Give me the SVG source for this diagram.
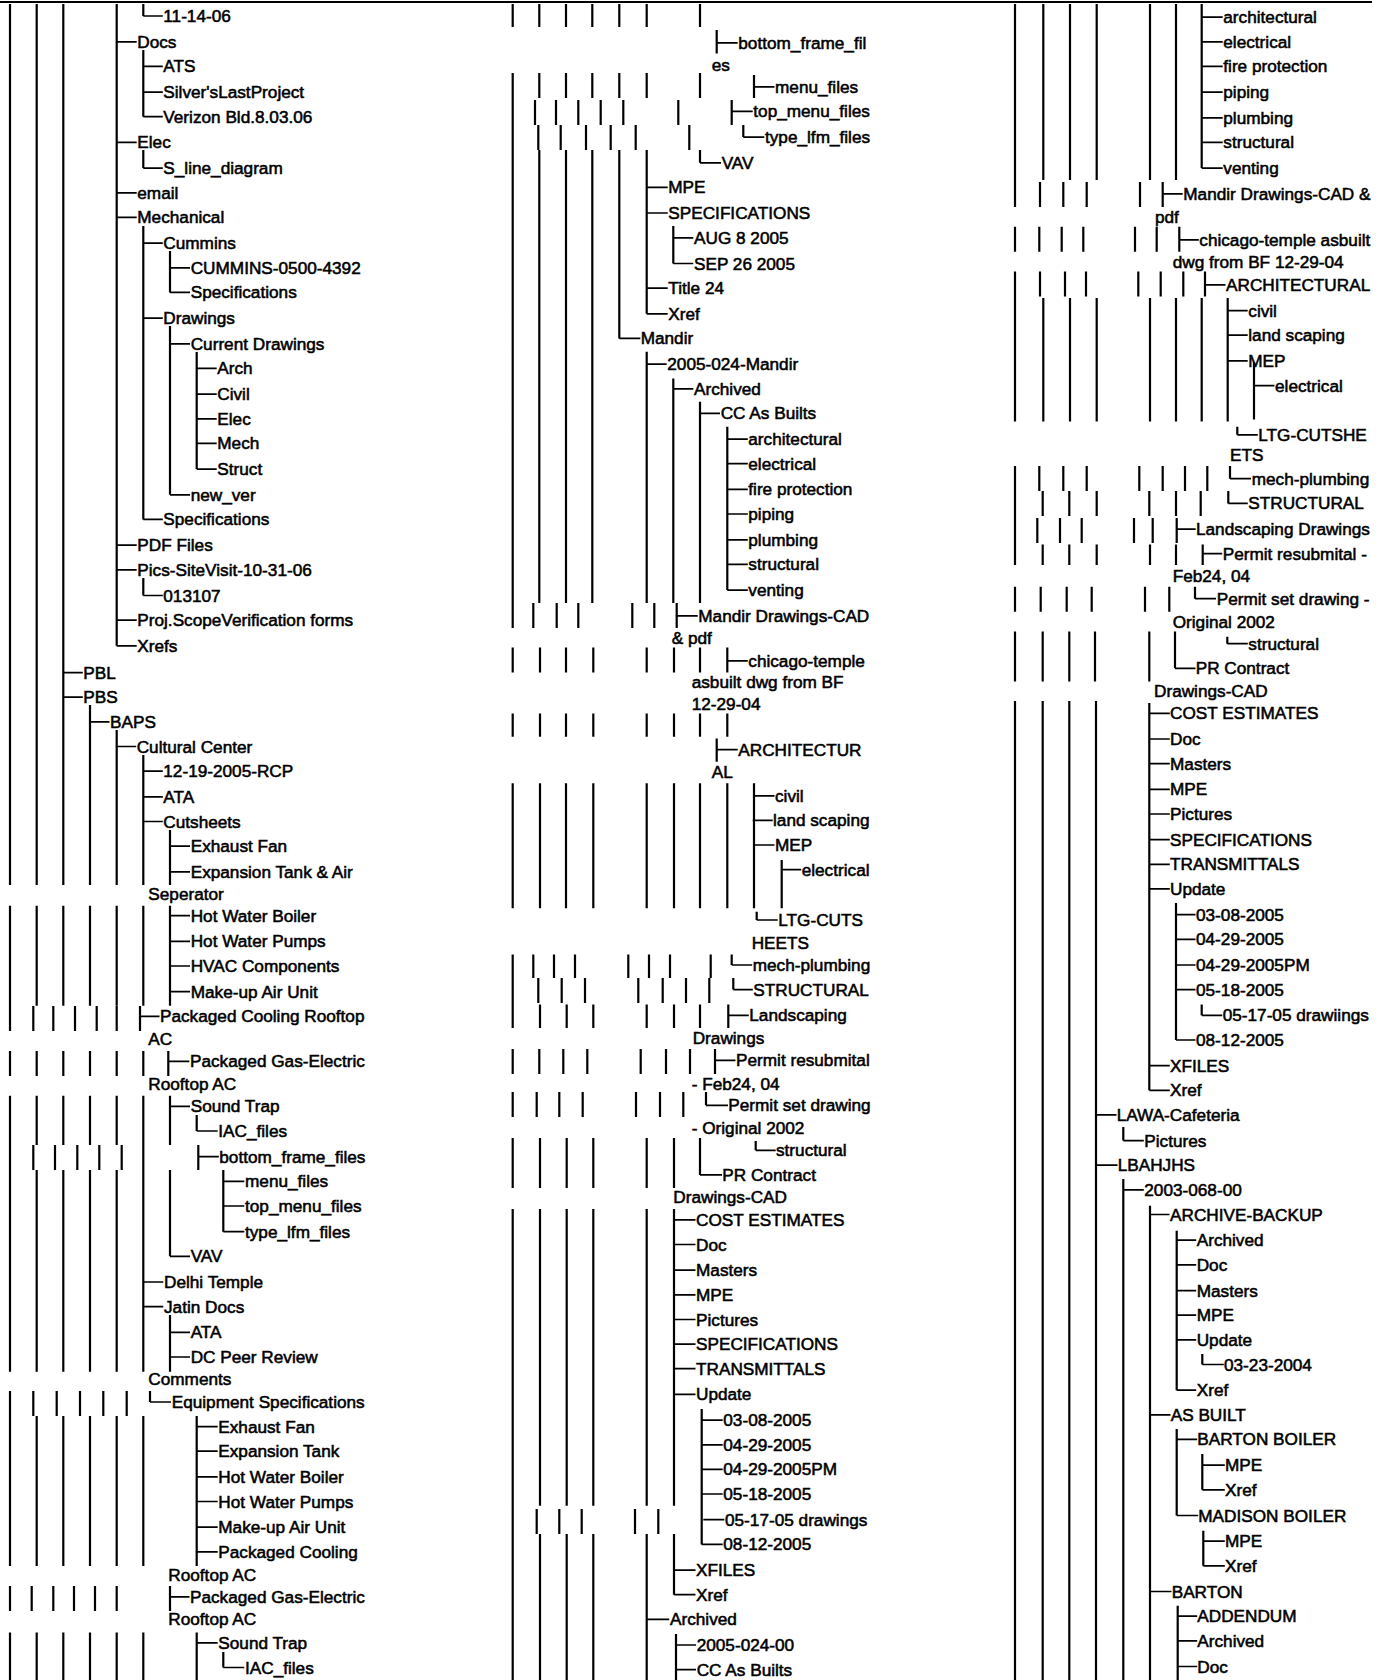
<svg xmlns="http://www.w3.org/2000/svg" width="1387" height="1680" viewBox="0 0 1387 1680">
<style>
.t{font-family:"Liberation Sans",Arial,sans-serif;font-size:17.2px;fill:#000;stroke:#000;stroke-width:0.55;dominant-baseline:central}
.v{fill:none;stroke:#000;stroke-width:2.2}
.h{fill:none;stroke:#000;stroke-width:1.7}
</style>
<rect width="1387" height="1680" fill="#fff"/>
<g id="connectors">
<path class="v" d="M0 2H1372"/>
<path class="v" d="M10 4V885M10 905.7V1031M10 1051V1076M10 1095.7V1371.8M10 1391V1566M10 1586V1611M10 1632.5V1680
M36.7 4V885M36.7 905.7V1005.7M33.3 1006V1031M36.7 1051V1076M36.7 1095.7V1145M33.3 1145V1170M36.7 1170V1371.8M33.3 1391V1416M36.7 1416V1566M31.7 1586V1611M36.7 1632.5V1680
M63.3 4V885M63.3 905.7V1005.7M53.3 1006V1031M63.3 1051V1076M63.3 1095.7V1145M55 1145V1170M63.3 1170V1371.8M56.7 1391V1416M63.3 1416V1566M53.3 1586V1611M63.3 1632.5V1680
M90 705V885M90 905.7V1005.7M75 1006V1031M90 1051V1076M90 1095.7V1145M77.3 1145V1170M90 1170V1371.8M80 1391V1416M90 1416V1566M74 1586V1611M90 1632.5V1680
M116.7 4V645.8M116.7 730V885M116.7 905.7V1005.7M96.7 1006V1031M116.7 1051V1076M116.7 1095.7V1145M99.3 1145V1170M116.7 1170V1371.8M103.3 1391V1416M116.7 1416V1566M95 1586V1611M116.7 1632.5V1680
M143.3 4V16M143.3 50V116.7M143.3 150V168.1M143.3 226V519.4M143.3 578V595.5M143.3 755V885M143.3 905.7V1005.7M116.7 1006V1031M143.3 1051V1076M143.3 1095.7V1145M121.7 1145V1170M143.3 1170V1371.8M126.7 1391V1416M143.3 1416V1566M116.7 1586V1611M143.3 1632.5V1680
M170 251V292.4M170 326V494.8M170 830V885M170 905.7V1005.7M140 1006V1031M168.3 1051V1076M170 1095.7V1145M143.3 1145V1170M170 1170V1256.3M170 1315V1371.8M150 1391V1402M170 1586V1611
M196.7 352V469.1M196.7 1115V1131M198.3 1145V1170M196.7 1416V1566M196.7 1632.5V1680
M223.3 1170V1231.7M223.3 1652V1667.5"/>
<path class="h" d="M116.7 41.8h20M116.7 142.4h20M116.7 192.8h20M116.7 217.4h20M116.7 545.1h20M116.7 569.8h20M116.7 620.1h20M116.7 645.8h20M116.7 746.5h19.5
M143.3 16h19.5M143.3 66.4h19.5M143.3 92.1h19.5M143.3 116.7h19.5M143.3 168.1h19.5M143.3 243.1h19.5M143.3 318.1h19.5M143.3 519.4h19.5M143.3 595.5h19.5M143.3 771.1h19.5M143.3 796.8h19.5M143.3 821.5h19.5M143.3 1282h20M143.3 1306.6h20
M170 267.8h20M170 292.4h20M170 343.8h20M170 494.8h20M170 846.1h20M170 871.8h20M170 915.7h20M170 941.4h20M170 966h20M170 991.7h20M170 1106.3h20M170 1256.3h20M170 1332.3h20M170 1357h20
M196.7 368.4h20M196.7 394.1h20M196.7 418.8h20M196.7 443.4h20M196.7 469.1h20M196.7 1131h21M196.7 1426.6h21M196.7 1451.2h21M196.7 1476.9h21M196.7 1501.5h21M196.7 1527.2h21M196.7 1551.9h21M196.7 1642.9h21
M223.3 1181.3h21M223.3 1206h21M223.3 1231.7h21M223.3 1667.5h21
M63.3 672.6h19.5M63.3 697.2h19.5M90 721.9h19.5
M140 1016.4h19.5M168.3 1061.4h21M198.3 1156.7h20.5M150 1402h21M170 1596.9h19.5"/>
<path class="v" d="M512.7 4V27M512.7 73V628M512.7 647.5V672.5M512.7 713.6V736.8M512.7 783.2V908.2M512.7 954.6V1027.9M512.7 1049V1074M512.7 1092V1117M512.7 1138V1188M512.7 1209V1680
M539.3 4V27M539.3 73V98M535 100V125M538.3 125V150M539.3 150V603M533.3 603V628M540 647.5V672.5M540 713.6V736.8M540 783.2V908.2M533.3 954.6V977.9M538.3 978V1003M540 1004.6V1027.9M539.3 1049V1074M536.7 1092V1117M540 1138V1188M540 1209V1505.7M536.7 1509V1534M540 1534V1680
M566 4V27M566 73V98M556 100V125M560.7 125V150M566 150V603M556.7 603V628M566 647.5V672.5M566 713.6V736.8M566 783.2V908.2M554 954.6V977.9M561.7 978V1003M566.7 1004.6V1027.9M563.3 1049V1074M559.3 1092V1117M566.7 1138V1188M566.7 1209V1505.7M559.3 1509V1534M566.7 1534V1680
M592.3 4V27M592.3 73V98M578.3 100V125M586 125V150M592.3 150V603M578.3 603V628M593.3 647.5V672.5M593.3 713.6V736.8M593.3 783.2V908.2M575 954.6V977.9M585 978V1003M593.3 1004.6V1027.9M587.3 1049V1074M582.7 1092V1117M593.3 1138V1188M593.3 1209V1505.7M581.7 1509V1534M593.3 1534V1680
M619.3 4V27M619.3 73V98M600.7 100V125M610.7 125V150M619.3 150V338.4
M646.7 4V27M646.7 73V98M623.3 100V125M635.7 125V150M646.7 150V313.8M646.7 351.8V603M632.3 603V628M646.7 647.5V672.5M646.7 713.6V736.8M646.7 783.2V908.2M628.3 954.6V977.9M638.3 978V1003M646.7 1004.6V1027.9M640.7 1049V1074M636 1092V1117M646.7 1138V1188M646.7 1209V1505.7M635 1509V1534M646.7 1534V1680
M673.3 226V263.5M673.3 378.6V603M654.3 603V628M674 647.5V672.5M674 713.6V736.8M674 783.2V908.2M649 954.6V977.9M662.7 978V1003M674 1004.6V1027.9M666 1049V1074M660 1092V1117M674 1138V1188M674 1209V1505.7M658.3 1509V1534M674 1534V1594.7M676 1634V1680
M700 4V27M716.7 30V53.6M700 73V98M678.3 100V125M689.3 125V150M700 150V162.8M700 401.8V603M676.7 603V628M700 647.5V672.5M700 713.6V736.8M700 783.2V908.2M670 954.6V977.9M686 978V1003M700 1004.6V1027.9M690 1049V1074M683.3 1092V1117M700 1138V1174.9
M727.3 426.8V590.1M727.3 647.5V672.5M727.3 713.6V736.8M716.7 738.6V761.8M727.3 783.2V908.2M710.7 954.6V977.9M709.3 978V1003M728.3 1004.6V1027.9M715 1049V1074M706 1092V1105.3
M754 75V98M731.7 100V125M743.3 125V137.1M754 783.2V908.2M781.7 860V908.2M756.7 911.8V920M731.7 954.6V965M733.3 978V989.6M755.7 1141V1150.3M701.7 1409V1544.4"/>
<path class="h" d="M716.7 42.8h21M754 86.8h20.5M731.7 111.4h21M743.3 137.1h21M700 162.8h21
M646.7 187.4h21M646.7 213h21M673.3 237.8h20M673.3 263.5h20M646.7 288.1h21M646.7 313.8h21M619.3 338.4h21M646.7 364.1h20M673.3 388.8h20M700 413.4h20
M727.3 439.1h20.5M727.3 463.7h20.5M727.3 489.4h20.5M727.3 514h20.5M727.3 539.8h20.5M727.3 564.4h20.5M727.3 590.1h20.5
M676.7 615.8h21M727.3 660.8h20.5M716.7 749.7h21M754 795.8h20.5M752.7 820.4h20M754 845h20.5M781.7 869.7h19.5M756.7 920h21M731.7 965h20.5M733.3 989.6h19.5M728.3 1015.3h20.5M715 1060.3h20.5M706 1105.3h22M755.7 1150.3h20M700 1174.9h22
M674 1219.9h21.5M674 1244.5h21.5M674 1270.2h21.5M674 1294.8h21.5M674 1319.5h21.5M674 1344.1h21.5M674 1368.7h21.5M674 1394.4h21.5
M701.7 1420.1h21M701.7 1444.8h21M701.7 1469.4h21M701.7 1494h21M703.3 1519.7h21M701.7 1544.4h21
M674 1570.1h21.5M674 1594.7h21.5M646.7 1619.4h22.5M676 1645h20M676 1669.7h20"/>
<path class="v" d="M1015 4V207M1015 226.8V251.8M1015 271.4V421.4M1015 466V565M1015 586.8V611.8M1015 631.4V681.4M1015 701V1680
M1043.3 4V180M1040 182V207M1039.3 226.8V251.8M1040 271.4V296.4M1043.3 298V421.4M1039.3 466V491M1042.7 491V516M1037.3 518V543M1042.7 544.6V565M1040.7 586.8V611.8M1042.7 631.4V681.4M1042.7 701V1680
M1070 4V180M1063.3 182V207M1061.7 226.8V251.8M1065 271.4V296.4M1070 298V421.4M1063.3 466V491M1069.3 491V516M1060 518V543M1069.3 544.6V565M1066.7 586.8V611.8M1069.3 631.4V681.4M1069.3 701V1680
M1096.7 4V180M1086.7 182V207M1083.3 226.8V251.8M1086 271.4V296.4M1096.7 298V421.4M1086.7 466V491M1096.7 491V516M1081.7 518V543M1096.7 544.6V565M1091.7 586.8V611.8M1095 631.4V681.4M1096 701V1680
M1150 4V180M1140 182V207M1135 226.8V251.8M1138.3 271.4V296.4M1150 298V421.4M1139.3 466V491M1149.3 491V516M1134 518V543M1150 544.6V565M1145 586.8V611.8M1149.3 631.4V681.4M1149.3 702.9V1090.3
M1176 4V180M1162.7 182V207M1156.7 226.8V251.8M1160.7 271.4V296.4M1176 298V421.4M1162.7 466V491M1176 491V516M1152.7 518V543M1176 544.6V565M1169.3 586.8V611.8M1175 631.4V668.3
M1201.7 4V168.1M1179.3 226.8V251.8M1183.3 271.4V296.4M1201.7 298V421.4M1185 466V491M1200.7 491V516M1176.7 518V543M1202.7 544.6V565M1195 586.8V598.7
M1205 271.4V296.4M1227.7 298V421.4M1207.3 466V491M1228.3 491V503.4
M1254 362.5V419.6M1237.3 426.8V434.8M1230 466V478.7M1227.3 636.8V643.7
M1176 902.9V1040M1201.7 1004.6V1015.3M1123.3 1127V1140.6M1123.3 1179V1680M1150 1205.7V1680M1176.7 1230.7V1390.2M1202.3 1354V1364.5M1176.7 1429V1515.5M1202.3 1454V1489.8M1203.3 1530.7V1565.8M1177.7 1605.7V1680"/>
<path class="h" d="M1201.7 17.1h21M1201.7 41.8h21M1201.7 66.4h21M1201.7 92.1h21M1201.7 117.8h21M1201.7 142.4h21M1201.7 168.1h21
M1162.7 193.9h20M1179.3 239.9h19.5M1205 284.9h20.5M1227.7 310.6h20M1227.7 335.2h20M1227.7 360.9h20M1254 385.6h20.5M1237.3 434.8h20.5M1230 478.7h21M1228.3 503.4h19.5M1176.7 529.1h19M1202.7 553.7h19.5M1195 598.7h21M1227.3 643.7h20.5M1175 668.3h20.5
M1149.3 713.3h20.5M1149.3 739h20.5M1149.3 763.6h20.5M1149.3 789.3h20.5M1149.3 814h20.5M1149.3 839.7h20.5M1149.3 864.3h20.5M1149.3 888.9h20.5
M1176 914.6h19.5M1176 939.3h19.5M1176 965h19.5M1176 989.6h19.5M1201.7 1015.3h20.5M1176 1040h19.5
M1149.3 1065.6h20.5M1149.3 1090.3h20.5
M1096 1114.9h20.5M1123.3 1140.6h20.5M1096 1165.2h21.5M1123.3 1189.9h20.5M1150 1214.5h19.5
M1176.7 1240.2h19.5M1176.7 1264.9h19.5M1176.7 1290.6h19.5M1176.7 1315.2h19.5M1176.7 1339.8h19.5M1176.7 1390.2h19.5M1202.3 1364.5h21.5
M1150 1414.8h20.5M1176.7 1439.4h20.5M1202.3 1465.1h22.5M1202.3 1489.8h22.5M1176.7 1515.5h21.5M1203.3 1541.2h21.5M1203.3 1565.8h21.5M1150 1591.5h21.5M1177.7 1616.1h19.5M1177.7 1640.8h19.5M1177.7 1666.5h19.5"/>
</g>
<g id="left-column">
<g id="l1"><text class="t" x="163.3" y="16">11-14-06</text></g>
<g id="l2"><text class="t" x="137.3" y="41.8">Docs</text></g>
<g id="l3"><text class="t" x="163.3" y="66.4">ATS</text></g>
<g id="l4"><text class="t" x="163.3" y="92.1">Silver'sLastProject</text></g>
<g id="l5"><text class="t" x="163.3" y="116.7">Verizon Bld.8.03.06</text></g>
<g id="l6"><text class="t" x="137.3" y="142.4">Elec</text></g>
<g id="l7"><text class="t" x="163.3" y="168.1">S_line_diagram</text></g>
<g id="l8"><text class="t" x="137.3" y="192.8">email</text></g>
<g id="l9"><text class="t" x="137.3" y="217.4">Mechanical</text></g>
<g id="l10"><text class="t" x="163.3" y="243.1">Cummins</text></g>
<g id="l11"><text class="t" x="190.7" y="267.8">CUMMINS-0500-4392</text></g>
<g id="l12"><text class="t" x="190.7" y="292.4">Specifications</text></g>
<g id="l13"><text class="t" x="163.3" y="318.1">Drawings</text></g>
<g id="l14"><text class="t" x="190.7" y="343.8">Current Drawings</text></g>
<g id="l15"><text class="t" x="217.3" y="368.4">Arch</text></g>
<g id="l16"><text class="t" x="217.3" y="394.1">Civil</text></g>
<g id="l17"><text class="t" x="217.3" y="418.8">Elec</text></g>
<g id="l18"><text class="t" x="217.3" y="443.4">Mech</text></g>
<g id="l19"><text class="t" x="217.3" y="469.1">Struct</text></g>
<g id="l20"><text class="t" x="190.7" y="494.8">new_ver</text></g>
<g id="l21"><text class="t" x="163.3" y="519.4">Specifications</text></g>
<g id="l22"><text class="t" x="137.3" y="545.1">PDF Files</text></g>
<g id="l23"><text class="t" x="137.3" y="569.8">Pics-SiteVisit-10-31-06</text></g>
<g id="l24"><text class="t" x="163.3" y="595.5">013107</text></g>
<g id="l25"><text class="t" x="137.3" y="620.1">Proj.ScopeVerification forms</text></g>
<g id="l26"><text class="t" x="137.3" y="645.8">Xrefs</text></g>
<g id="l27"><text class="t" x="83.3" y="672.6">PBL</text></g>
<g id="l28"><text class="t" x="83.3" y="697.2">PBS</text></g>
<g id="l29"><text class="t" x="110" y="721.9">BAPS</text></g>
<g id="l30"><text class="t" x="136.7" y="746.5">Cultural Center</text></g>
<g id="l31"><text class="t" x="163.3" y="771.1">12-19-2005-RCP</text></g>
<g id="l32"><text class="t" x="163.3" y="796.8">ATA</text></g>
<g id="l33"><text class="t" x="163.3" y="821.5">Cutsheets</text></g>
<g id="l34"><text class="t" x="190.7" y="846.1">Exhaust Fan</text></g>
<g id="l35"><text class="t" x="190.7" y="871.8">Expansion Tank &amp; Air</text><text class="t" x="148.3" y="894.3">Seperator</text></g>
<g id="l36"><text class="t" x="190.7" y="915.7">Hot Water Boiler</text></g>
<g id="l37"><text class="t" x="190.7" y="941.4">Hot Water Pumps</text></g>
<g id="l38"><text class="t" x="190.7" y="966">HVAC Components</text></g>
<g id="l39"><text class="t" x="190.7" y="991.7">Make-up Air Unit</text></g>
<g id="l40"><text class="t" x="160" y="1016.4">Packaged Cooling Rooftop</text><text class="t" x="148.3" y="1038.9">AC</text></g>
<g id="l41"><text class="t" x="190" y="1061.4">Packaged Gas-Electric</text><text class="t" x="148.3" y="1083.9">Rooftop AC</text></g>
<g id="l42"><text class="t" x="190.7" y="1106.3">Sound Trap</text></g>
<g id="l43"><text class="t" x="218.3" y="1131">IAC_files</text></g>
<g id="l44"><text class="t" x="219.3" y="1156.7">bottom_frame_files</text></g>
<g id="l45"><text class="t" x="245" y="1181.3">menu_files</text></g>
<g id="l46"><text class="t" x="245" y="1206">top_menu_files</text></g>
<g id="l47"><text class="t" x="245" y="1231.7">type_lfm_files</text></g>
<g id="l48"><text class="t" x="190.7" y="1256.3">VAV</text></g>
<g id="l49"><text class="t" x="164" y="1282">Delhi Temple</text></g>
<g id="l50"><text class="t" x="164" y="1306.6">Jatin Docs</text></g>
<g id="l51"><text class="t" x="190.7" y="1332.3">ATA</text></g>
<g id="l52"><text class="t" x="190.7" y="1357">DC Peer Review</text><text class="t" x="148.3" y="1379.4">Comments</text></g>
<g id="l53"><text class="t" x="171.7" y="1402">Equipment Specifications</text></g>
<g id="l54"><text class="t" x="218.3" y="1426.6">Exhaust Fan</text></g>
<g id="l55"><text class="t" x="218.3" y="1451.2">Expansion Tank</text></g>
<g id="l56"><text class="t" x="218.3" y="1476.9">Hot Water Boiler</text></g>
<g id="l57"><text class="t" x="218.3" y="1501.5">Hot Water Pumps</text></g>
<g id="l58"><text class="t" x="218.3" y="1527.2">Make-up Air Unit</text></g>
<g id="l59"><text class="t" x="218.3" y="1551.9">Packaged Cooling</text><text class="t" x="168.3" y="1575.4">Rooftop AC</text></g>
<g id="l60"><text class="t" x="190" y="1596.9">Packaged Gas-Electric</text><text class="t" x="168.3" y="1619.4">Rooftop AC</text></g>
<g id="l61"><text class="t" x="218.3" y="1642.9">Sound Trap</text></g>
<g id="l62"><text class="t" x="245" y="1667.5">IAC_files</text></g>
</g>
<g id="middle-column">
<g id="m1"><text class="t" x="738.3" y="42.8">bottom_frame_fil</text><text class="t" x="711.7" y="65.3">es</text></g>
<g id="m2"><text class="t" x="775" y="86.8">menu_files</text></g>
<g id="m3"><text class="t" x="753.3" y="111.4">top_menu_files</text></g>
<g id="m4"><text class="t" x="765" y="137.1">type_lfm_files</text></g>
<g id="m5"><text class="t" x="721.7" y="162.8">VAV</text></g>
<g id="m6"><text class="t" x="668.3" y="187.4">MPE</text></g>
<g id="m7"><text class="t" x="668.3" y="213">SPECIFICATIONS</text></g>
<g id="m8"><text class="t" x="694" y="237.8">AUG 8 2005</text></g>
<g id="m9"><text class="t" x="694" y="263.5">SEP 26 2005</text></g>
<g id="m10"><text class="t" x="668.3" y="288.1">Title 24</text></g>
<g id="m11"><text class="t" x="668.3" y="313.8">Xref</text></g>
<g id="m12"><text class="t" x="640.7" y="338.4">Mandir</text></g>
<g id="m13"><text class="t" x="667.3" y="364.1">2005-024-Mandir</text></g>
<g id="m14"><text class="t" x="694" y="388.8">Archived</text></g>
<g id="m15"><text class="t" x="720.7" y="413.4">CC As Builts</text></g>
<g id="m16"><text class="t" x="748.3" y="439.1">architectural</text></g>
<g id="m17"><text class="t" x="748.3" y="463.7">electrical</text></g>
<g id="m18"><text class="t" x="748.3" y="489.4">fire protection</text></g>
<g id="m19"><text class="t" x="748.3" y="514">piping</text></g>
<g id="m20"><text class="t" x="748.3" y="539.8">plumbing</text></g>
<g id="m21"><text class="t" x="748.3" y="564.4">structural</text></g>
<g id="m22"><text class="t" x="748.3" y="590.1">venting</text></g>
<g id="m23"><text class="t" x="698.3" y="615.8">Mandir Drawings-CAD</text><text class="t" x="671.7" y="638.3">&amp; pdf</text></g>
<g id="m24"><text class="t" x="748.3" y="660.8">chicago-temple</text><text class="t" x="691.7" y="682.2">asbuilt dwg from BF</text><text class="t" x="691.7" y="703.6">12-29-04</text></g>
<g id="m25"><text class="t" x="738.3" y="749.7">ARCHITECTUR</text><text class="t" x="711.7" y="772.2">AL</text></g>
<g id="m26"><text class="t" x="775" y="795.8">civil</text></g>
<g id="m27"><text class="t" x="773" y="820.4">land scaping</text></g>
<g id="m28"><text class="t" x="775" y="845">MEP</text></g>
<g id="m29"><text class="t" x="801.7" y="869.7">electrical</text></g>
<g id="m30"><text class="t" x="778.3" y="920">LTG-CUTS</text><text class="t" x="751.7" y="942.5">HEETS</text></g>
<g id="m31"><text class="t" x="752.7" y="965">mech-plumbing</text></g>
<g id="m32"><text class="t" x="753.3" y="989.6">STRUCTURAL</text></g>
<g id="m33"><text class="t" x="749.3" y="1015.3">Landscaping</text><text class="t" x="692.7" y="1037.8">Drawings</text></g>
<g id="m34"><text class="t" x="736" y="1060.3">Permit resubmital</text><text class="t" x="691.7" y="1083.9">- Feb24, 04</text></g>
<g id="m35"><text class="t" x="728.3" y="1105.3">Permit set drawing</text><text class="t" x="691.7" y="1127.8">- Original 2002</text></g>
<g id="m36"><text class="t" x="776" y="1150.3">structural</text></g>
<g id="m37"><text class="t" x="722.3" y="1174.9">PR Contract</text><text class="t" x="673.3" y="1197.4">Drawings-CAD</text></g>
<g id="m38"><text class="t" x="696" y="1219.9">COST ESTIMATES</text></g>
<g id="m39"><text class="t" x="696" y="1244.5">Doc</text></g>
<g id="m40"><text class="t" x="696" y="1270.2">Masters</text></g>
<g id="m41"><text class="t" x="696" y="1294.8">MPE</text></g>
<g id="m42"><text class="t" x="696" y="1319.5">Pictures</text></g>
<g id="m43"><text class="t" x="696" y="1344.1">SPECIFICATIONS</text></g>
<g id="m44"><text class="t" x="696" y="1368.7">TRANSMITTALS</text></g>
<g id="m45"><text class="t" x="696" y="1394.4">Update</text></g>
<g id="m46"><text class="t" x="723.3" y="1420.1">03-08-2005</text></g>
<g id="m47"><text class="t" x="723.3" y="1444.8">04-29-2005</text></g>
<g id="m48"><text class="t" x="723.3" y="1469.4">04-29-2005PM</text></g>
<g id="m49"><text class="t" x="723.3" y="1494">05-18-2005</text></g>
<g id="m50"><text class="t" x="725" y="1519.7">05-17-05 drawings</text></g>
<g id="m51"><text class="t" x="723.3" y="1544.4">08-12-2005</text></g>
<g id="m52"><text class="t" x="696" y="1570.1">XFILES</text></g>
<g id="m53"><text class="t" x="696" y="1594.7">Xref</text></g>
<g id="m54"><text class="t" x="670" y="1619.4">Archived</text></g>
<g id="m55"><text class="t" x="696.7" y="1645">2005-024-00</text></g>
<g id="m56"><text class="t" x="696.7" y="1669.7">CC As Builts</text></g>
</g>
<g id="right-column">
<g id="r1"><text class="t" x="1223.3" y="17.1">architectural</text></g>
<g id="r2"><text class="t" x="1223.3" y="41.8">electrical</text></g>
<g id="r3"><text class="t" x="1223.3" y="66.4">fire protection</text></g>
<g id="r4"><text class="t" x="1223.3" y="92.1">piping</text></g>
<g id="r5"><text class="t" x="1223.3" y="117.8">plumbing</text></g>
<g id="r6"><text class="t" x="1223.3" y="142.4">structural</text></g>
<g id="r7"><text class="t" x="1223.3" y="168.1">venting</text></g>
<g id="r8"><text class="t" x="1183.3" y="193.9">Mandir Drawings-CAD &amp;</text><text class="t" x="1155" y="217.4">pdf</text></g>
<g id="r9"><text class="t" x="1199.3" y="239.9">chicago-temple asbuilt</text><text class="t" x="1172.7" y="262.4">dwg from BF 12-29-04</text></g>
<g id="r10"><text class="t" x="1226" y="284.9">ARCHITECTURAL</text></g>
<g id="r11"><text class="t" x="1248.3" y="310.6">civil</text></g>
<g id="r12"><text class="t" x="1248.3" y="335.2">land scaping</text></g>
<g id="r13"><text class="t" x="1248.3" y="360.9">MEP</text></g>
<g id="r14"><text class="t" x="1275" y="385.6">electrical</text></g>
<g id="r15"><text class="t" x="1258.3" y="434.8">LTG-CUTSHE</text><text class="t" x="1230" y="455.2">ETS</text></g>
<g id="r16"><text class="t" x="1251.7" y="478.7">mech-plumbing</text></g>
<g id="r17"><text class="t" x="1248.3" y="503.4">STRUCTURAL</text></g>
<g id="r18"><text class="t" x="1196" y="529.1">Landscaping Drawings</text></g>
<g id="r19"><text class="t" x="1222.7" y="553.7">Permit resubmital -</text><text class="t" x="1172.7" y="576.2">Feb24, 04</text></g>
<g id="r20"><text class="t" x="1216.7" y="598.7">Permit set drawing -</text><text class="t" x="1172.7" y="622.3">Original 2002</text></g>
<g id="r21"><text class="t" x="1248.3" y="643.7">structural</text></g>
<g id="r22"><text class="t" x="1195.7" y="668.3">PR Contract</text><text class="t" x="1154" y="690.8">Drawings-CAD</text></g>
<g id="r23"><text class="t" x="1170" y="713.3">COST ESTIMATES</text></g>
<g id="r24"><text class="t" x="1170" y="739">Doc</text></g>
<g id="r25"><text class="t" x="1170" y="763.6">Masters</text></g>
<g id="r26"><text class="t" x="1170" y="789.3">MPE</text></g>
<g id="r27"><text class="t" x="1170" y="814">Pictures</text></g>
<g id="r28"><text class="t" x="1170" y="839.7">SPECIFICATIONS</text></g>
<g id="r29"><text class="t" x="1170" y="864.3">TRANSMITTALS</text></g>
<g id="r30"><text class="t" x="1170" y="888.9">Update</text></g>
<g id="r31"><text class="t" x="1196" y="914.6">03-08-2005</text></g>
<g id="r32"><text class="t" x="1196" y="939.3">04-29-2005</text></g>
<g id="r33"><text class="t" x="1196" y="965">04-29-2005PM</text></g>
<g id="r34"><text class="t" x="1196" y="989.6">05-18-2005</text></g>
<g id="r35"><text class="t" x="1222.7" y="1015.3">05-17-05 drawiings</text></g>
<g id="r36"><text class="t" x="1196" y="1040">08-12-2005</text></g>
<g id="r37"><text class="t" x="1170" y="1065.6">XFILES</text></g>
<g id="r38"><text class="t" x="1170" y="1090.3">Xref</text></g>
<g id="r39"><text class="t" x="1116.7" y="1114.9">LAWA-Cafeteria</text></g>
<g id="r40"><text class="t" x="1144.3" y="1140.6">Pictures</text></g>
<g id="r41"><text class="t" x="1117.7" y="1165.2">LBAHJHS</text></g>
<g id="r42"><text class="t" x="1144.3" y="1189.9">2003-068-00</text></g>
<g id="r43"><text class="t" x="1170" y="1214.5">ARCHIVE-BACKUP</text></g>
<g id="r44"><text class="t" x="1196.7" y="1240.2">Archived</text></g>
<g id="r45"><text class="t" x="1196.7" y="1264.9">Doc</text></g>
<g id="r46"><text class="t" x="1196.7" y="1290.6">Masters</text></g>
<g id="r47"><text class="t" x="1196.7" y="1315.2">MPE</text></g>
<g id="r48"><text class="t" x="1196.7" y="1339.8">Update</text></g>
<g id="r49"><text class="t" x="1224" y="1364.5">03-23-2004</text></g>
<g id="r50"><text class="t" x="1196.7" y="1390.2">Xref</text></g>
<g id="r51"><text class="t" x="1170.7" y="1414.8">AS BUILT</text></g>
<g id="r52"><text class="t" x="1197.3" y="1439.4">BARTON BOILER</text></g>
<g id="r53"><text class="t" x="1225" y="1465.1">MPE</text></g>
<g id="r54"><text class="t" x="1225" y="1489.8">Xref</text></g>
<g id="r55"><text class="t" x="1198.3" y="1515.5">MADISON BOILER</text></g>
<g id="r56"><text class="t" x="1225" y="1541.2">MPE</text></g>
<g id="r57"><text class="t" x="1225" y="1565.8">Xref</text></g>
<g id="r58"><text class="t" x="1171.7" y="1591.5">BARTON</text></g>
<g id="r59"><text class="t" x="1197.3" y="1616.1">ADDENDUM</text></g>
<g id="r60"><text class="t" x="1197.3" y="1640.8">Archived</text></g>
<g id="r61"><text class="t" x="1197.3" y="1666.5">Doc</text></g>
</g>
</svg>
